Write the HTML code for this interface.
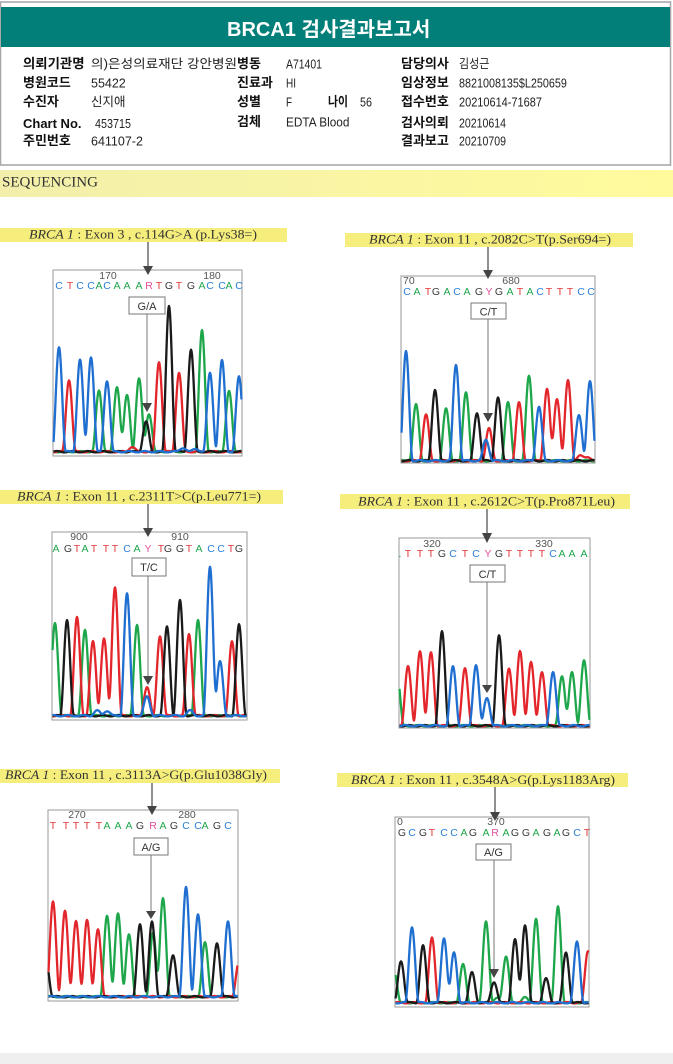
<!DOCTYPE html>
<html>
<head>
<meta charset="utf-8">
<style>
html,body{margin:0;padding:0;background:#fff;}
svg{display:block;}
.lb{font-family:"Liberation Sans","Noto Sans CJK KR",sans-serif;font-weight:bold;font-size:13px;fill:#111;}
.vl{font-family:"Liberation Sans","Noto Sans CJK KR",sans-serif;font-size:12.5px;fill:#222;}
.cap{font-family:"Liberation Serif","Noto Serif CJK SC",serif;font-size:12.5px;fill:#333;}
.num{font-family:"Liberation Sans",sans-serif;font-size:10.5px;fill:#555;}
.bs{font-family:"Liberation Sans",sans-serif;font-size:10.5px;text-anchor:middle;}
.bx{font-family:"Liberation Sans",sans-serif;font-size:11px;fill:#333;text-anchor:middle;}
.A{fill:#1ea64b}.C{fill:#2a80d6}.G{fill:#3a3a3a}.T{fill:#e23a3c}.M{fill:#e0509a}
</style>
</head>
<body>
<svg id="s" width="673" height="1064" viewBox="0 0 673 1064" xmlns="http://www.w3.org/2000/svg">
<defs>
<linearGradient id="yg" x1="0" x2="1" y1="0" y2="0">
<stop offset="0" stop-color="#f3efab"/>
<stop offset="1" stop-color="#fffb9c"/>
</linearGradient>
</defs>
<rect x="0" y="0" width="673" height="1064" fill="#fff"/>

<!-- Header box -->
<rect x="0.5" y="2" width="670" height="163" fill="#fff" stroke="#a8a8a8" stroke-width="1.6"/>
<rect x="1" y="7" width="669" height="40" fill="#037f79"/>
<text x="227" y="36" font-family="'Liberation Sans','Noto Sans CJK KR',sans-serif" font-weight="bold" font-size="20" fill="#fff">BRCA1 검사결과보고서</text>

<!-- Row 1 -->
<text class="lb" transform="translate(23,68) scale(1.03,1)">의뢰기관명</text>
<text class="vl" transform="translate(91,68) scale(1.09,1)">의)은성의료재단 강안병원</text>
<text class="lb" x="237" y="68">병동</text>
<text class="vl" transform="translate(286,68.5) scale(0.835,1)">A71401</text>
<text class="lb" x="401" y="68">담당의사</text>
<text class="vl" transform="translate(459,68) scale(0.88,1)">김성근</text>
<!-- Row 2 -->
<text class="lb" x="23" y="87">병원코드</text>
<text class="vl" x="91" y="87.5">55422</text>
<text class="lb" x="237" y="87">진료과</text>
<text class="vl" transform="translate(286,87.5) scale(0.8,1)">HI</text>
<text class="lb" x="401" y="87">임상정보</text>
<text class="vl" transform="translate(459,87.5) scale(0.863,1)">8821008135$L250659</text>
<!-- Row 3 -->
<text class="lb" x="23" y="106">수진자</text>
<text class="vl" x="91" y="106">신지애</text>
<text class="lb" x="237" y="106">성별</text>
<text class="vl" transform="translate(286,106.5) scale(0.79,1)">F</text>
<text class="lb" x="328" y="106" textLength="20" lengthAdjust="spacingAndGlyphs">나이</text>
<text class="vl" transform="translate(360,106.5) scale(0.86,1)">56</text>
<text class="lb" x="401" y="106">접수번호</text>
<text class="vl" transform="translate(459,106.5) scale(0.878,1)">20210614-71687</text>
<!-- Row 4 -->
<text class="lb" x="23" y="128">Chart No.</text>
<text class="vl" transform="translate(95,128) scale(0.863,1)">453715</text>
<text class="lb" x="237" y="126">검체</text>
<text class="vl" transform="translate(286,126.5) scale(0.945,1)">EDTA Blood</text>
<text class="lb" x="401" y="127">검사의뢰</text>
<text class="vl" transform="translate(459,127.5) scale(0.845,1)">20210614</text>
<!-- Row 5 -->
<text class="lb" x="23" y="145">주민번호</text>
<text class="vl" x="91" y="145.5">641107-2</text>
<text class="lb" x="401" y="145">결과보고</text>
<text class="vl" transform="translate(459,145.5) scale(0.845,1)">20210709</text>

<!-- SEQUENCING band -->
<rect x="0" y="170" width="673" height="27" fill="url(#yg)"/>
<text x="2" y="186.5" font-family="'Liberation Serif',serif" font-size="14.5" fill="#333" textLength="96" lengthAdjust="spacingAndGlyphs">SEQUENCING</text>

<!-- Caption bands -->
<rect x="0" y="228" width="287" height="14" fill="#f6ee7c"/>
<text class="cap" x="29" y="238.5" textLength="228" lengthAdjust="spacingAndGlyphs"><tspan font-style="italic">BRCA 1</tspan> : Exon 3 , c.114G&gt;A (p.Lys38=)</text>
<rect x="345" y="233" width="288" height="14" fill="#f6ee7c"/>
<text class="cap" x="369" y="243.5" textLength="242" lengthAdjust="spacingAndGlyphs"><tspan font-style="italic">BRCA 1</tspan> : Exon 11 , c.2082C&gt;T(p.Ser694=)</text>
<rect x="0" y="490" width="283" height="14" fill="#f6ee7c"/>
<text class="cap" x="17" y="500.5" textLength="244" lengthAdjust="spacingAndGlyphs"><tspan font-style="italic">BRCA 1</tspan> : Exon 11 , c.2311T&gt;C(p.Leu771=)</text>
<rect x="340" y="494" width="290" height="15" fill="#f6ee7c"/>
<text class="cap" x="358" y="505.5" textLength="257" lengthAdjust="spacingAndGlyphs"><tspan font-style="italic">BRCA 1</tspan> : Exon 11 , c.2612C&gt;T(p.Pro871Leu)</text>
<rect x="0" y="769" width="280" height="14" fill="#f6ee7c"/>
<text class="cap" x="5" y="779" textLength="262" lengthAdjust="spacingAndGlyphs"><tspan font-style="italic">BRCA 1</tspan> : Exon 11 , c.3113A&gt;G(p.Glu1038Gly)</text>
<rect x="337" y="773" width="291" height="14" fill="#f6ee7c"/>
<text class="cap" x="351" y="784" textLength="264" lengthAdjust="spacingAndGlyphs"><tspan font-style="italic">BRCA 1</tspan> : Exon 11 , c.3548A&gt;G(p.Lys1183Arg)</text>

<!-- Frames -->
<g fill="none" stroke="#9a9a9a" stroke-width="1">
<rect x="53" y="270" width="189" height="186"/>
<rect x="401" y="276" width="194" height="187"/>
<rect x="52" y="532" width="195" height="188"/>
<rect x="399" y="538" width="191" height="190"/>
<rect x="48" y="810" width="190" height="191"/>
<rect x="395" y="817" width="194" height="190"/>
</g>

<!-- Traces (generated) -->
<g id="traces"></g>

<!-- Position numbers -->
<text class="num" x="108" y="279" text-anchor="middle">170</text>
<text class="num" x="212" y="279" text-anchor="middle">180</text>
<text class="num" x="403" y="284">70</text>
<text class="num" x="511" y="284" text-anchor="middle">680</text>
<text class="num" x="79" y="540" text-anchor="middle">900</text>
<text class="num" x="180" y="540" text-anchor="middle">910</text>
<text class="num" x="432" y="547" text-anchor="middle">320</text>
<text class="num" x="544" y="547" text-anchor="middle">330</text>
<text class="num" x="77" y="818" text-anchor="middle">270</text>
<text class="num" x="187" y="818" text-anchor="middle">280</text>
<text class="num" x="397" y="825">0</text>
<text class="num" x="496" y="825" text-anchor="middle">370</text>

<!-- Base calls -->
<text class="bs" y="289"><tspan x="59" class="C">C</tspan><tspan x="70" class="T">T</tspan><tspan x="80" class="C">C</tspan><tspan x="91" class="C">C</tspan><tspan x="99" class="A">A</tspan><tspan x="107" class="C">C</tspan><tspan x="117" class="A">A</tspan><tspan x="127" class="A">A</tspan><tspan x="139" class="A">A</tspan><tspan x="149" class="M">R</tspan><tspan x="159" class="T">T</tspan><tspan x="169" class="G">G</tspan><tspan x="179" class="T">T</tspan><tspan x="191" class="G">G</tspan><tspan x="202" class="A">A</tspan><tspan x="210" class="C">C</tspan><tspan x="222" class="C">C</tspan><tspan x="229" class="A">A</tspan><tspan x="239" class="C">C</tspan></text>

<text class="bs" y="295"><tspan x="407" class="C">C</tspan><tspan x="417" class="A">A</tspan><tspan x="428" class="T">T</tspan><tspan x="436" class="G">G</tspan><tspan x="447" class="A">A</tspan><tspan x="457" class="C">C</tspan><tspan x="467" class="A">A</tspan><tspan x="479" class="G">G</tspan><tspan x="489" class="M">Y</tspan><tspan x="499" class="G">G</tspan><tspan x="510" class="A">A</tspan><tspan x="520" class="T">T</tspan><tspan x="530" class="A">A</tspan><tspan x="540" class="C">C</tspan><tspan x="549" class="T">T</tspan><tspan x="560" class="T">T</tspan><tspan x="570" class="T">T</tspan><tspan x="581" class="C">C</tspan><tspan x="591" class="C">C</tspan></text>

<text class="bs" y="552"><tspan x="56" class="A">A</tspan><tspan x="68" class="G">G</tspan><tspan x="77" class="T">T</tspan><tspan x="85" class="A">A</tspan><tspan x="94" class="T">T</tspan><tspan x="106" class="T">T</tspan><tspan x="115" class="T">T</tspan><tspan x="127" class="C">C</tspan><tspan x="137" class="A">A</tspan><tspan x="148" class="M">Y</tspan><tspan x="161" class="T">T</tspan><tspan x="168" class="G">G</tspan><tspan x="180" class="G">G</tspan><tspan x="189" class="T">T</tspan><tspan x="199" class="A">A</tspan><tspan x="211" class="C">C</tspan><tspan x="221" class="C">C</tspan><tspan x="231" class="T">T</tspan><tspan x="239" class="G">G</tspan></text>

<text class="bs" y="557"><tspan x="400" class="A">.</tspan><tspan x="408" class="T">T</tspan><tspan x="420" class="T">T</tspan><tspan x="431" class="T">T</tspan><tspan x="442" class="G">G</tspan><tspan x="453" class="C">C</tspan><tspan x="465" class="T">T</tspan><tspan x="476" class="C">C</tspan><tspan x="488" class="M">Y</tspan><tspan x="499" class="G">G</tspan><tspan x="509" class="T">T</tspan><tspan x="520" class="T">T</tspan><tspan x="531" class="T">T</tspan><tspan x="542" class="T">T</tspan><tspan x="553" class="C">C</tspan><tspan x="562" class="A">A</tspan><tspan x="572" class="A">A</tspan><tspan x="584" class="A">A</tspan></text>

<text class="bs" y="829"><tspan x="53" class="T">T</tspan><tspan x="66" class="T">T</tspan><tspan x="76" class="T">T</tspan><tspan x="87" class="T">T</tspan><tspan x="99" class="T">T</tspan><tspan x="107" class="A">A</tspan><tspan x="118" class="A">A</tspan><tspan x="129" class="A">A</tspan><tspan x="140" class="G">G</tspan><tspan x="153" class="M">R</tspan><tspan x="163" class="A">A</tspan><tspan x="174" class="G">G</tspan><tspan x="186" class="C">C</tspan><tspan x="198" class="C">C</tspan><tspan x="205" class="A">A</tspan><tspan x="217" class="G">G</tspan><tspan x="228" class="C">C</tspan></text>

<text class="bs" y="836"><tspan x="402" class="G">G</tspan><tspan x="412" class="C">C</tspan><tspan x="423" class="G">G</tspan><tspan x="432" class="T">T</tspan><tspan x="444" class="C">C</tspan><tspan x="454" class="C">C</tspan><tspan x="464" class="A">A</tspan><tspan x="473" class="G">G</tspan><tspan x="486" class="A">A</tspan><tspan x="495" class="M">R</tspan><tspan x="506" class="A">A</tspan><tspan x="515" class="G">G</tspan><tspan x="526" class="G">G</tspan><tspan x="536" class="A">A</tspan><tspan x="547" class="G">G</tspan><tspan x="557" class="A">A</tspan><tspan x="566" class="G">G</tspan><tspan x="577" class="C">C</tspan><tspan x="587" class="T">T</tspan></text>

<!-- Upper arrows -->
<g stroke="#555" stroke-width="1.3">
<line x1="148" y1="242" x2="148" y2="267"/>
<line x1="488" y1="247" x2="488" y2="271"/>
<line x1="148" y1="504" x2="148" y2="529"/>
<line x1="487" y1="509" x2="487" y2="534"/>
<line x1="152" y1="783" x2="152" y2="807"/>
<line x1="495" y1="787" x2="495" y2="813"/>
</g>
<g fill="#444">
<path d="M143,266 L153,266 L148,275 Z"/>
<path d="M483,270 L493,270 L488,279 Z"/>
<path d="M143,528 L153,528 L148,537 Z"/>
<path d="M482,533 L492,533 L487,543 Z"/>
<path d="M147,806 L157,806 L152,815 Z"/>
<path d="M490,812 L500,812 L495,821 Z"/>
</g>

<!-- Variant boxes -->
<g fill="#fff" stroke="#777" stroke-width="1">
<rect x="129" y="297" width="36" height="17"/>
<rect x="471" y="303" width="35" height="16"/>
<rect x="132" y="558" width="34" height="18"/>
<rect x="470" y="565" width="35" height="17"/>
<rect x="134" y="838" width="34" height="17"/>
<rect x="476" y="844" width="35" height="16"/>
</g>
<text class="bx" x="147" y="310">G/A</text>
<text class="bx" x="488.5" y="315.5">C/T</text>
<text class="bx" x="149" y="571">T/C</text>
<text class="bx" x="487.5" y="578">C/T</text>
<text class="bx" x="151" y="851">A/G</text>
<text class="bx" x="493.5" y="856">A/G</text>

<!-- Lower arrows -->
<g stroke="#777" stroke-width="1">
<line x1="147" y1="314" x2="147" y2="404"/>
<line x1="488" y1="319" x2="488" y2="414"/>
<line x1="148" y1="576" x2="148" y2="677"/>
<line x1="487" y1="582" x2="487" y2="686"/>
<line x1="151" y1="855" x2="151" y2="912"/>
<line x1="494" y1="860" x2="494" y2="970"/>
</g>
<g fill="#444">
<path d="M142,403 L152,403 L147,412 Z"/>
<path d="M483,413 L493,413 L488,422 Z"/>
<path d="M143,676 L153,676 L148,685 Z"/>
<path d="M482,685 L492,685 L487,693 Z"/>
<path d="M146,911 L156,911 L151,919 Z"/>
<path d="M489,969 L499,969 L494,978 Z"/>
</g>

<!-- bottom gray band -->
<rect x="0" y="1053" width="673" height="11" fill="#efefef"/>
</svg>

<script>
(function(){
var NS='http://www.w3.org/2000/svg';
var col={b:'#1f6fd1',r:'#e3262b',g:'#1ea64b',k:'#1a1a1a'};
var panels=[
 {x0:53,x1:242,base:453,peaks:[[59,348,'b'],[69,381,'r'],[80,361,'b'],[91,358,'b'],[99,392,'g'],[107,382,'b'],[117,388,'g'],[127,397,'g'],[139,380,'g'],[149,415,'g'],[146,423,'k'],[159,363,'r'],[169,307,'k'],[179,374,'r'],[191,351,'k'],[202,332,'g'],[210,374,'b'],[222,362,'b'],[229,392,'g'],[239,378,'b'],[132,448,'r'],[183,449,'b'],[196,450,'b']]},
 {x0:401,x1:595,base:462,peaks:[[406,353,'b'],[416,406,'g'],[426,416,'r'],[435,391,'k'],[446,410,'g'],[456,366,'b'],[466,394,'g'],[477,414,'k'],[489,430,'r'],[486,441,'b'],[498,399,'k'],[508,404,'g'],[519,404,'r'],[529,377,'g'],[539,408,'b'],[547,390,'r'],[557,400,'r'],[568,382,'r'],[579,416,'b'],[590,383,'b'],[580,457,'r'],[588,458,'r']]},
 {x0:52,x1:247,base:717,peaks:[[55,624,'g'],[67,621,'k'],[77,619,'r'],[85,631,'g'],[93,643,'r'],[104,640,'r'],[115,588,'r'],[127,595,'b'],[137,626,'g'],[147,688,'r'],[147,698,'b'],[160,637,'r'],[167,628,'k'],[180,602,'k'],[189,635,'r'],[198,621,'g'],[210,568,'b'],[220,663,'b'],[232,643,'r'],[239,626,'k'],[97,712,'b'],[107,712,'b'],[190,712,'b']]},
 {x0:399,x1:590,base:727,peaks:[[397,675,'g'],[408,667,'r'],[420,652,'r'],[431,654,'r'],[442,633,'k'],[453,668,'b'],[465,669,'r'],[476,666,'b'],[487,699,'b'],[499,637,'k'],[509,670,'r'],[520,653,'r'],[531,663,'r'],[542,673,'r'],[553,673,'b'],[562,677,'g'],[572,674,'g'],[584,662,'g']]},
 {x0:48,x1:238,base:998,peaks:[[46,962,'k'],[53,902,'r'],[65,912,'r'],[76,923,'r'],[87,921,'r'],[98,930,'r'],[107,917,'g'],[118,914,'g'],[129,936,'g'],[140,925,'k'],[152,923,'k'],[153,934,'g'],[163,899,'g'],[173,956,'k'],[186,888,'b'],[198,915,'b'],[205,944,'g'],[217,944,'k'],[228,922,'b'],[239,962,'r']]},
 {x0:395,x1:589,base:1004,peaks:[[394,972,'g'],[401,962,'k'],[412,928,'b'],[423,947,'k'],[432,939,'r'],[444,939,'b'],[454,954,'b'],[463,966,'g'],[472,974,'k'],[486,922,'g'],[494,983,'k'],[506,958,'g'],[515,941,'k'],[525,926,'k'],[536,920,'g'],[546,980,'k'],[558,908,'g'],[566,954,'k'],[577,943,'b'],[588,952,'r'],[525,999,'g'],[498,999,'g']]}
];
var g=document.getElementById('traces');
var order=['g','r','k','b'];
var W=6.8;
panels.forEach(function(p){
  order.forEach(function(c,ci){
    var pts=[];
    for(var x=p.x0+0.5;x<=p.x1-0.5;x+=0.5){
      var y=0;
      for(var i=0;i<p.peaks.length;i++){
        var pk=p.peaks[i];
        if(pk[2]!==c) continue;
        var h=p.base-pk[1];
        var d=Math.abs(x-pk[0]);
        if(d<W){
          var v=Math.cos(Math.PI*d/(2*W));
          y+=h*v*v;
        }
      }
      y+=1.3+0.7*Math.sin(x*0.41+ci*1.7);
      pts.push(x.toFixed(1)+','+(p.base-y).toFixed(1));
    }
    var pl=document.createElementNS(NS,'polyline');
    pl.setAttribute('points',pts.join(' '));
    pl.setAttribute('fill','none');
    pl.setAttribute('stroke',col[c]);
    pl.setAttribute('stroke-width','2.3');
    pl.setAttribute('stroke-linejoin','round');
    g.appendChild(pl);
  });
});
})();
</script>
</body>
</html>
